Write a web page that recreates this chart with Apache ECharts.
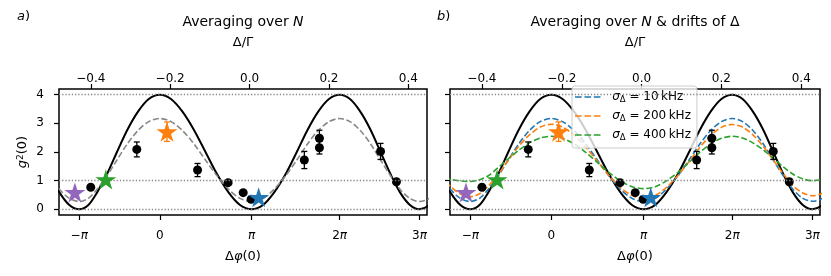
<!DOCTYPE html>
<html><head><meta charset="utf-8">
<script src="https://cdn.jsdelivr.net/npm/echarts@6/dist/echarts.min.js"></script>
<style>html,body{margin:0;padding:0;background:#fff}#c{width:831px;height:276px}</style>
</head><body><div id="c"></div>
<script>
// ---- data ----
// Δ/Γ positions of the theory-curve samples (eighth steps of Δφ)
const curveX = [-0.529,-0.504,-0.479,-0.454,-0.429,-0.406,-0.384,-0.359,-0.334,-0.308,-0.281,-0.254,-0.226,-0.198,-0.169,-0.140,-0.111,-0.082,-0.053,-0.024,0.005,0.034,0.062,0.091,0.119,0.146,0.173,0.200,0.227,0.253,0.279,0.305,0.330,0.355,0.379,0.404,0.428,0.453,0.478];
const blackY = [2.00,1.23,0.59,0.15,0.00,0.15,0.59,1.23,2.00,2.77,3.41,3.85,4.00,3.85,3.41,2.77,2.00,1.23,0.59,0.15,0.00,0.15,0.59,1.23,2.00,2.77,3.41,3.85,4.00,3.85,3.41,2.77,2.00,1.23,0.59,0.15,0.00,0.15,0.59];
const grayY  = [1.72,1.17,0.70,0.38,0.27,0.38,0.70,1.17,1.72,2.28,2.75,3.06,3.17,3.06,2.75,2.28,1.72,1.17,0.70,0.38,0.27,0.38,0.70,1.17,1.72,2.28,2.75,3.06,3.17,3.06,2.75,2.28,1.72,1.17,0.70,0.38,0.27,0.38,0.70];
const blueY  = [1.72,1.17,0.70,0.38,0.27,0.38,0.70,1.17,1.72,2.28,2.75,3.06,3.17,3.06,2.75,2.28,1.72,1.17,0.70,0.38,0.27,0.38,0.70,1.17,1.72,2.28,2.75,3.06,3.17,3.06,2.75,2.28,1.72,1.17,0.70,0.38,0.28,0.38,0.70];
const orangeY= [1.67,1.20,0.80,0.53,0.44,0.54,0.81,1.22,1.71,2.19,2.60,2.87,2.97,2.87,2.59,2.17,1.68,1.18,0.76,0.48,0.38,0.48,0.76,1.18,1.67,2.16,2.58,2.86,2.96,2.87,2.60,2.19,1.72,1.24,0.83,0.57,0.47,0.56,0.83];
const greenY = [1.45,1.18,1.05,0.99,0.97,1.03,1.17,1.46,1.76,2.06,2.32,2.49,2.55,2.48,2.28,1.99,1.64,1.29,0.99,0.79,0.72,0.79,0.99,1.29,1.64,1.99,2.28,2.48,2.55,2.49,2.32,2.07,1.78,1.48,1.23,1.06,1.00,1.05,1.20];
// measured points
const pointsX   = [-0.400,-0.284,-0.131,-0.054,-0.016,0.004,0.138,0.176,0.176,0.330,0.370];
const pointsY   = [0.77,2.09,1.37,0.93,0.58,0.35,1.72,2.48,2.15,2.02,0.96];
const pointsErr = [0.05,0.26,0.23,0.05,0.05,0.05,0.30,0.28,0.22,0.28,0.05];
// highlighted stars
const starX   = [-0.440,-0.362,-0.208,0.023];
const starY   = [0.59,1.04,2.71,0.42];
const starErr = [0,0,0.34,0];
const starColors = ['#9467bd','#2ca02c','#ff7f0e','#1f77b4'];
// ticks
const phaseTickPos = [-0.429,-0.226,0.005,0.227,0.428];
const phaseTickLabels = ['−π','0','π','2π','3π'];
const detuneTicks = [-0.4,-0.2,0,0.2,0.4];
const yTicks = [0,1,2,3,4];
const refLines = [0,1,4];
const legendValues = ['10','200','400'];
const legendColors = ['#1f77b4','#ff7f0e','#2ca02c'];

// ---- chart ----
const FONT = 'DejaVu Sans';
const pair = (xs, ys) => xs.map((x, i) => [x, ys[i]]);
const STAR = 'path://M100 0 L122.45 69.1 L195.1 69.1 L136.33 111.8 L158.8 180.9 L100 138.2 L41.2 180.9 L63.67 111.8 L4.9 69.1 L77.55 69.1 Z';
const DASH_ICON = 'path://M0 0h6.7v1.7h-6.7z M9.4 0h6.7v1.7h-6.7z M18.8 0h6.7v1.7h-6.7z';
const txt = {fontFamily: FONT, fontSize: 12, color: '#000'};
const txt13 = {...txt, fontSize: 13};
const richBase = {n: {...txt}, i: {...txt, fontStyle: 'italic'}};
const rich13 = {n: {...txt13}, i: {...txt13, fontStyle: 'italic'}};
const rich14 = {n: {...txt, fontSize: 14}, i: {...txt, fontSize: 14, fontStyle: 'italic'}};

function phaseLabel(v) {
  const k = phaseTickPos.findIndex(p => Math.abs(p - v) < 1e-9);
  if (k < 0) return '';
  return phaseTickLabels[k].replace(/([^π]+)/g, '{n|$1}').replace(/π/g, '{i|π}');
}
function errRender(color) {
  return function (params, api) {
    const x = api.value(0), y = api.value(1), e = api.value(2);
    const t = api.coord([x, y + e]), b = api.coord([x, y - e]);
    const cap = 3, st = {stroke: color, lineWidth: 1.3};
    return {type: 'group', children: [
      {type: 'line', shape: {x1: t[0], y1: t[1], x2: b[0], y2: b[1]}, style: st},
      {type: 'line', shape: {x1: t[0] - cap, y1: t[1], x2: t[0] + cap, y2: t[1]}, style: st},
      {type: 'line', shape: {x1: b[0] - cap, y1: b[1], x2: b[0] + cap, y2: b[1]}, style: st}
    ]};
  };
}

const grids = [
  {left: 59, right: 404, top: 89, bottom: 61, show: true, borderColor: '#000', borderWidth: 1.5, backgroundColor: 'transparent'},
  {left: 450, right: 11, top: 89, bottom: 61, show: true, borderColor: '#000', borderWidth: 1.5, backgroundColor: 'transparent'}
];
const xAxes = [], yAxes = [], series = [];
[0, 1].forEach(g => {
  xAxes.push({
    type: 'value', gridIndex: g, position: 'bottom', min: -0.48, max: 0.447,
    splitLine: {show: false}, axisLine: {show: false, onZero: false},
    axisTick: {customValues: phaseTickPos, length: 5, lineStyle: {color: '#000', width: 1.2}},
    axisLabel: {customValues: phaseTickPos, formatter: phaseLabel, margin: 15, rich: richBase},
    name: '{n|Δ}{i|φ}{n|(0)}', nameLocation: 'middle', nameGap: 35,
    nameTextStyle: {rich: rich13}
  });
  xAxes.push({
    type: 'value', gridIndex: g, position: 'top', min: -0.48, max: 0.447,
    splitLine: {show: false}, axisLine: {show: false, onZero: false},
    axisTick: {customValues: detuneTicks, length: 5, lineStyle: {color: '#000', width: 1.2}},
    axisLabel: {customValues: detuneTicks, margin: 4, ...txt,
      formatter: v => (v < -1e-9 ? '−' : '') + Math.abs(v).toFixed(1)},
    name: 'Δ/Γ', nameLocation: 'middle', nameGap: 40, nameTextStyle: {...txt13}
  });
  yAxes.push({
    type: 'value', gridIndex: g, min: -0.2, max: 4.2,
    splitLine: {show: false}, axisLine: {show: false, onZero: false},
    axisTick: {customValues: yTicks, length: 5, lineStyle: {color: '#000', width: 1.2}},
    axisLabel: {show: g === 0, customValues: yTicks, margin: 15, ...txt},
    name: g === 0 ? '{i|g}{s|2}{n|(0)}' : '', nameLocation: 'middle', nameGap: 29,
    nameTextStyle: {rich: {...rich13, s: {...txt, fontSize: 9, verticalAlign: 'top', padding: [0, 0, 5, 0]}}}
  });
  const xi = 2 * g, yi = g;
  series.push({
    type: 'line', xAxisIndex: xi, yAxisIndex: yi, data: pair(curveX, blackY), smooth: 0.3,
    symbol: 'none', lineStyle: {color: '#000', width: 2}, z: 2, silent: true,
    markLine: {silent: true, symbol: 'none', label: {show: false},
      lineStyle: {type: [1.3, 1.9], color: '#888', width: 1.3},
      data: refLines.map(v => ({yAxis: v}))}
  });
  if (g === 0) {
    series.push({type: 'line', xAxisIndex: xi, yAxisIndex: yi, data: pair(curveX, grayY), smooth: 0.3,
      symbol: 'none', lineStyle: {color: '#888', width: 1.6, type: [6, 2.6]}, z: 2, silent: true});
  } else {
    [blueY, orangeY, greenY].forEach((ys, k) => {
      series.push({type: 'line', name: 's' + legendValues[k], xAxisIndex: xi, yAxisIndex: yi,
        data: pair(curveX, ys), smooth: 0.3, symbol: 'none', color: legendColors[k],
        itemStyle: {color: legendColors[k]},
        lineStyle: {color: legendColors[k], width: 1.6, type: [6, 2.6]}, z: 2, silent: true});
    });
  }
  series.push({type: 'custom', xAxisIndex: xi, yAxisIndex: yi, renderItem: errRender('#000'), z: 3, silent: true,
    data: pointsX.map((x, i) => [x, pointsY[i], pointsErr[i]])});
  series.push({type: 'scatter', xAxisIndex: xi, yAxisIndex: yi, symbol: 'circle', symbolSize: 9,
    itemStyle: {color: '#000', opacity: 1}, z: 4, silent: true, data: pair(pointsX, pointsY)});
  series.push({type: 'custom', xAxisIndex: xi, yAxisIndex: yi, renderItem: errRender('#ff7f0e'), z: 5, silent: true,
    data: starX.map((x, i) => [x, starY[i], starErr[i]]).filter(d => d[2] > 0)});
  series.push({type: 'scatter', xAxisIndex: xi, yAxisIndex: yi, symbol: STAR, symbolSize: [21, 20], z: 6, silent: true,
    data: starX.map((x, i) => ({value: [x, starY[i]], itemStyle: {color: starColors[i], opacity: 1}}))});
});

const legendRich = {
  s: {...txt, fontStyle: 'italic', padding: [0, 0, 0, 6], lineHeight: 14},
  d: {...txt, fontSize: 8.5, verticalAlign: 'bottom', lineHeight: 14},
  t: {...txt, lineHeight: 14}
};

const option = {
  animation: false,
  grid: grids, xAxis: xAxes, yAxis: yAxes, series: series,
  legend: {
    show: true, data: legendValues.map(v => ({name: 's' + v, icon: DASH_ICON})), orient: 'vertical', left: 572, top: 86,
    itemWidth: 27, itemHeight: 1.7, itemGap: 6, padding: [5, 6, 6, 3],
    backgroundColor: 'rgba(255,255,255,0.8)', borderColor: '#ccc', borderWidth: 1, borderRadius: 3,
    selectedMode: false,
    formatter: name => '{s|σ}{d|Δ}{t| = ' + name.slice(1) + '\u2009kHz}',
    textStyle: {...txt, rich: legendRich}
  },
  graphic: [
    {type: 'text', x: 17, y: 17, style: {text: '{i|a}{n|)}', rich: rich13, verticalAlign: 'middle', ...txt13}},
    {type: 'text', x: 437, y: 17, style: {text: '{i|b}{n|)}', rich: rich13, verticalAlign: 'middle', ...txt13}},
    {type: 'text', x: 243, y: 22, style: {text: '{n|Averaging over }{i|N}', rich: rich14, align: 'center', verticalAlign: 'middle'}},
    {type: 'text', x: 635, y: 22, style: {text: '{n|Averaging over }{i|N}{n| & drifts of Δ}', rich: rich14, align: 'center', verticalAlign: 'middle'}}
  ]
};
const chart = echarts.init(document.getElementById('c'), null, {renderer: 'canvas'});
chart.setOption(option);
</script></body></html>
